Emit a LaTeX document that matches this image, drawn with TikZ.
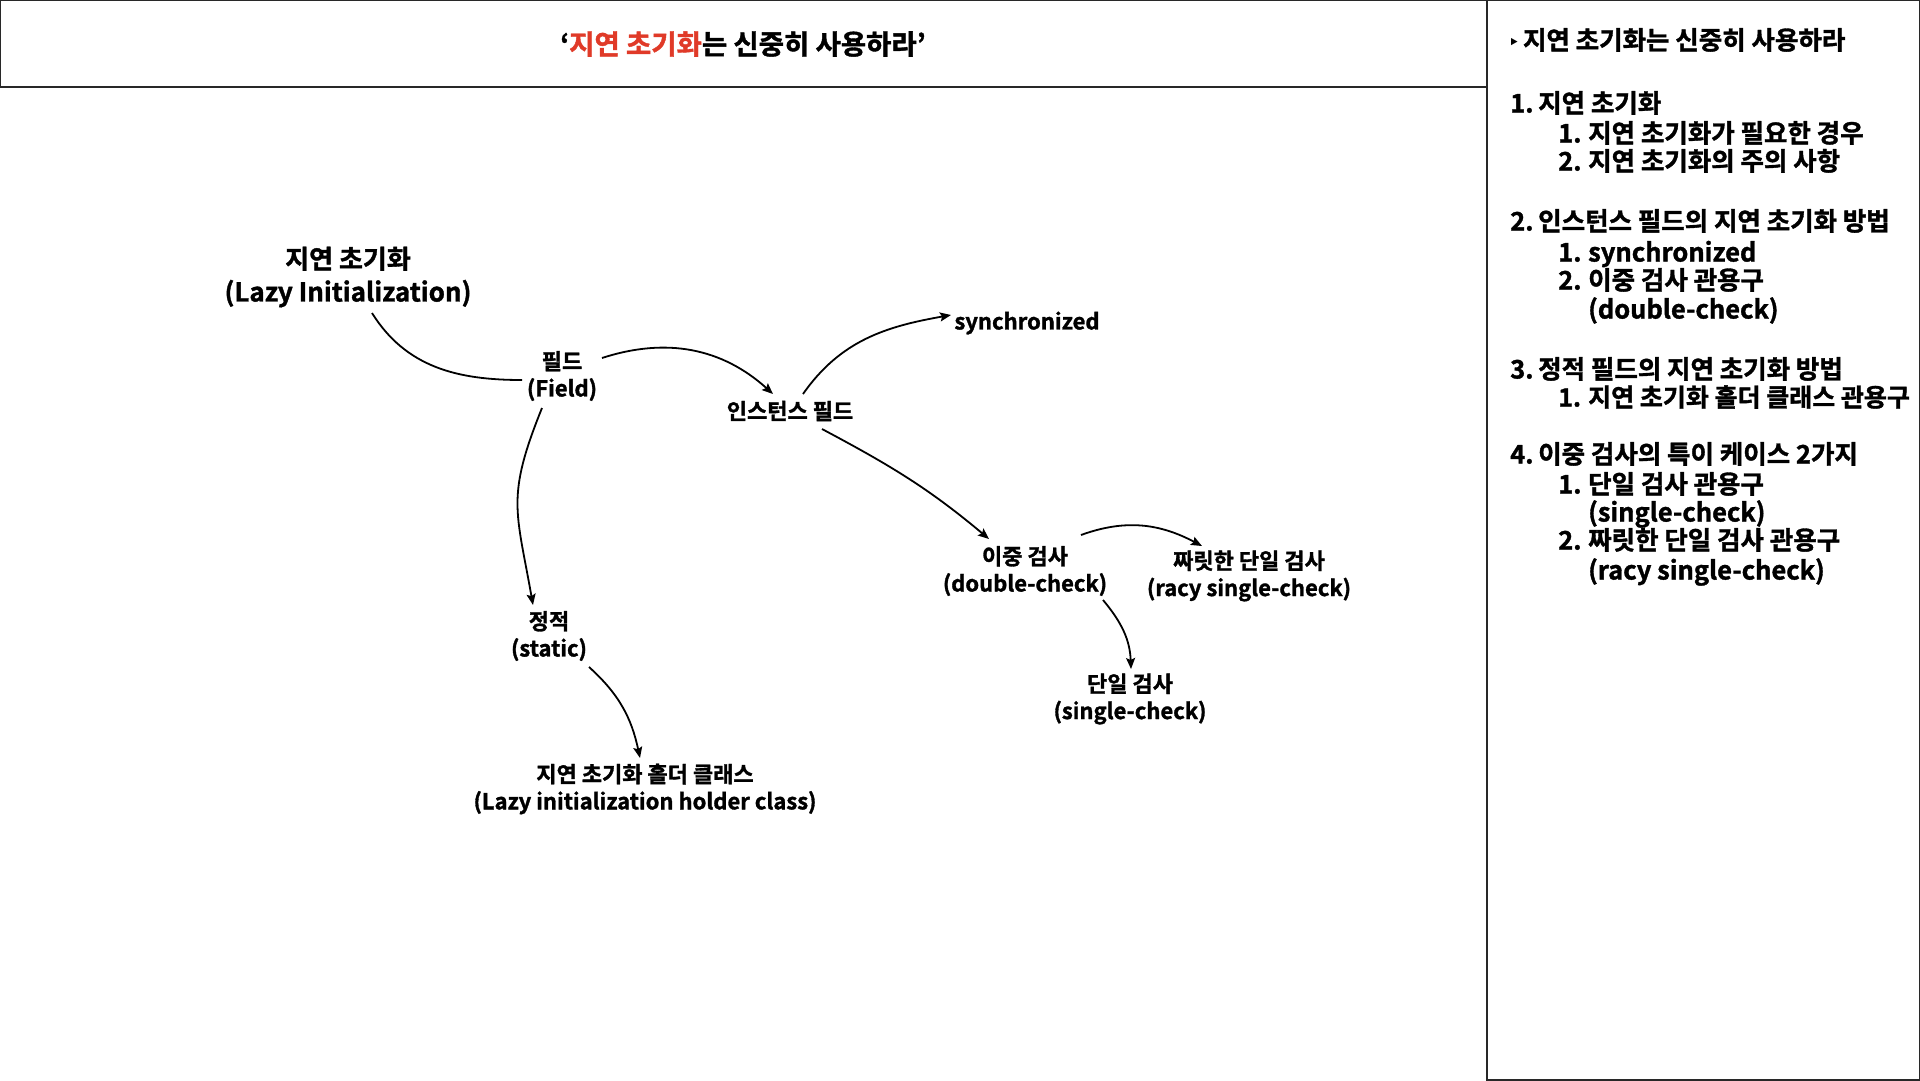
\documentclass[tikz,border=0pt]{standalone}
\usepackage{fontspec}
\setmainfont{Noto Sans CJK KR Bold}[FakeBold=1.4]
\newfontfamily\dv{DejaVu Sans}
\usetikzlibrary{arrows.meta}
\definecolor{titlered}{RGB}{224,58,40}
\definecolor{framec}{RGB}{40,40,40}
\tikzset{
  framebox/.style={draw=framec, line width=1.5pt},
  bignode/.style={align=center, inner sep=0pt, font=\fontsize{26}{33}\selectfont},
  smallnode/.style={align=center, inner sep=0pt, font=\fontsize{22}{27}\selectfont},
  conn/.style={line width=1.8pt, black},
  arr/.style={conn, -{Stealth[length=11pt,width=9pt,inset=2pt]}},
  paneltext/.style={anchor=west, inner sep=0pt, font=\fontsize{25.5}{30}\selectfont, text height=18pt, text depth=5pt},
}
\newcommand{\numA}[1]{\makebox[28pt][l]{#1}}
\newcommand{\numB}[1]{\makebox[30pt][l]{#1}}
\begin{document}
\begin{tikzpicture}[x=1pt,y=-1pt]
\useasboundingbox (0,0) rectangle (1920,1080);
\fill[white] (0,0) rectangle (1920,1080);
% frames
\draw[framebox] (0,0) rectangle (1487,87);
\draw[framebox] (1487,0) rectangle (1920,1080);
% title
\node[inner sep=0pt, font=\fontsize{27.5}{32}\selectfont] (title) at (743,44) {‘\textcolor{titlered}{지연 초기화}는 신중히 사용하라’};
% diagram nodes
\node[bignode] (lazy) at (348,277) {지연 초기화\\(Lazy Initialization)};
\node[smallnode] (field) at (562,376) {필드\\(Field)};
\node[smallnode] (inst) at (790,411) {인스턴스 필드};
\node[smallnode] (sync) at (1027,323) {synchronized};
\node[smallnode] (dbl) at (1025,571) {이중 검사\\(double-check)};
\node[smallnode] (racy) at (1249,576) {짜릿한 단일 검사\\(racy single-check)};
\node[smallnode] (single) at (1130,699) {단일 검사\\(single-check)};
\node[smallnode] (static) at (549,636) {정적\\(static)};
\node[smallnode] (holder) at (645,789) {지연 초기화 홀더 클래스\\(Lazy initialization holder class)};
% connectors
\draw[conn] ([shift={(24,36)}]lazy.center) to[out=-58,in=180] ([shift={(-40,4)}]field.center);
\draw[arr] ([shift={(40,-18)}]field.center) to[out=18,in=138] ([shift={(-17,-17)}]inst.center);
\draw[arr] ([shift={(-20,32)}]field.center) to[out=-112,in=100,looseness=1.25] ([shift={(-16,-31)}]static.center);
\draw[arr] ([shift={(13,-17)}]inst.center) to[out=55,in=190] ([shift={(-76,-8)}]sync.center);
\draw[arr] ([shift={(32,18)}]inst.center) to[out=-28,in=140] ([shift={(-36,-32)}]dbl.center);
\draw[arr] ([shift={(56,-36)}]dbl.center) to[out=20,in=152] ([shift={(-47,-30)}]racy.center);
\draw[arr] ([shift={(78,29)}]dbl.center) to[out=-50,in=92] ([shift={(1,-30)}]single.center);
\draw[arr] ([shift={(40,31)}]static.center) to[out=-42,in=102] ([shift={(-5,-31)}]holder.center);
% right panel
\node[paneltext] (p1) at (1508,43) {{\dv\fontsize{20}{20}\selectfont ‣}\hspace{3pt}지연 초기화는 신중히 사용하라};
\node[paneltext] (p2) at (1510,106) {\numA{1.}지연 초기화};
\node[paneltext] (p3) at (1558,136) {\numB{1.}지연 초기화가 필요한 경우};
\node[paneltext] (p4) at (1558,164) {\numB{2.}지연 초기화의 주의 사항};
\node[paneltext] (p5) at (1510,224) {\numA{2.}인스턴스 필드의 지연 초기화 방법};
\node[paneltext] (p6) at (1558,255) {\numB{1.}synchronized};
\node[paneltext] (p7) at (1558,283) {\numB{2.}이중 검사 관용구};
\node[paneltext] (p8) at (1588,312) {(double-check)};
\node[paneltext] (p9) at (1510,372) {\numA{3.}정적 필드의 지연 초기화 방법};
\node[paneltext, font=\fontsize{25}{30}\selectfont] (p10) at (1558,400) {\numB{1.}지연 초기화 홀더 클래스 관용구};
\node[paneltext] (p11) at (1510,457) {\numA{4.}이중 검사의 특이 케이스 2가지};
\node[paneltext] (p12) at (1558,487) {\numB{1.}단일 검사 관용구};
\node[paneltext] (p13) at (1588,515) {(single-check)};
\node[paneltext] (p14) at (1558,543) {\numB{2.}짜릿한 단일 검사 관용구};
\node[paneltext] (p15) at (1588,573) {(racy single-check)};
\end{tikzpicture}
\end{document}
